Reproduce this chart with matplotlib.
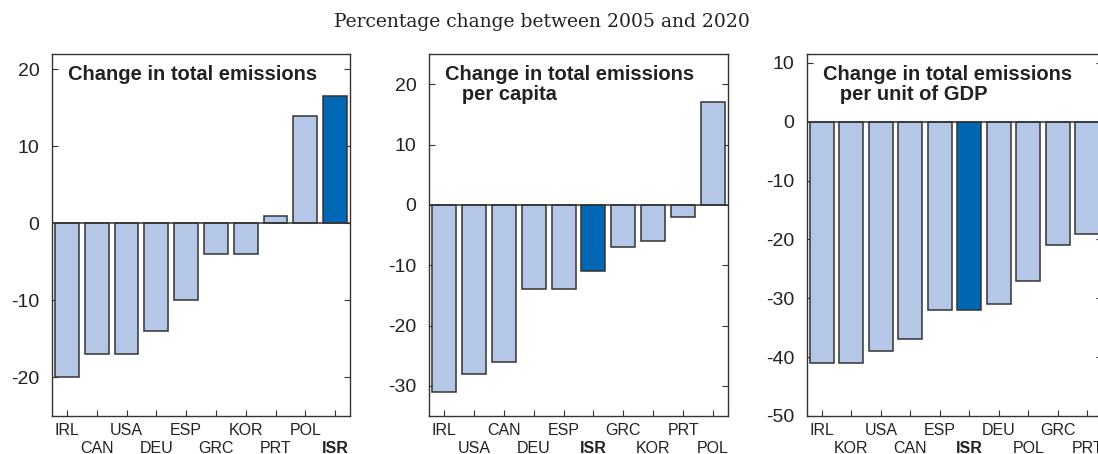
import matplotlib
matplotlib.use("Agg")
import matplotlib.pyplot as plt

plt.rcParams['font.family'] = ['Liberation Sans', 'DejaVu Sans']
plt.rcParams['axes.unicode_minus'] = False

# Panel 1: change in total emissions
total_countries = ['IRL', 'CAN', 'USA', 'DEU', 'ESP', 'GRC', 'KOR', 'PRT', 'POL', 'ISR']
total_values = [-20, -17, -17, -14, -10, -4, -4, 1, 14, 16.5]

# Panel 2: per capita
capita_countries = ['IRL', 'USA', 'CAN', 'DEU', 'ESP', 'ISR', 'GRC', 'KOR', 'PRT', 'POL']
capita_values = [-31, -28, -26, -14, -14, -11, -7, -6, -2, 17]

# Panel 3: per unit of GDP
gdp_countries = ['IRL', 'KOR', 'USA', 'CAN', 'ESP', 'ISR', 'DEU', 'POL', 'GRC', 'PRT']
gdp_values = [-41, -41, -39, -37, -32, -32, -31, -27, -21, -19]

light = '#b4c7e7'
dark = '#0067b4'
edge = '#333333'

W, H = 1098, 454
fig = plt.figure(figsize=(W / 100, H / 100), dpi=100)

fig.text(542 / W, 1 - 22 / H, 'Percentage change between 2005 and 2020',
         ha='center', va='center', fontsize=13.5, family='DejaVu Serif', color='#222222')

panels = [
    (52, 298, total_countries, total_values, (-25, 22), [-20, -10, 0, 10, 20],
     'Change in total emissions'),
    (429, 299, capita_countries, capita_values, (-35, 25), [-30, -20, -10, 0, 10, 20],
     'Change in total emissions\n   per capita'),
    (807, 295, gdp_countries, gdp_values, (-50, 11.5), [-50, -40, -30, -20, -10, 0, 10],
     'Change in total emissions\n   per unit of GDP'),
]

for left, width, countries, values, ylim, yticks, title in panels:
    ax = fig.add_axes([left / W, (H - 416) / H, width / W, 362 / H])
    colors = [dark if c == 'ISR' else light for c in countries]
    x = list(range(len(countries)))
    ax.bar(x, values, width=0.8, color=colors, edgecolor=edge, linewidth=1.1, zorder=2)
    ax.axhline(0, color=edge, linewidth=1.1, zorder=3)
    ax.set_xlim(-0.5, len(countries) - 0.5)
    ax.set_ylim(*ylim)
    ax.set_yticks(yticks)
    ax.set_yticklabels([str(v) for v in yticks])

    # staggered labels: even positions on the first row, odd ones on the second
    ax.set_xticks(x[0::2])
    ax.set_xticklabels(countries[0::2])
    ax.set_xticks(x[1::2], minor=True)
    ax.set_xticklabels(countries[1::2], minor=True)
    for lab in ax.get_xticklabels() + ax.get_xticklabels(minor=True):
        if lab.get_text() == 'ISR':
            lab.set_fontweight('bold')

    ax.tick_params(axis='y', direction='in', length=4, width=0.8, color=edge,
                   left=True, right=True, labelsize=14, pad=9, labelcolor='#222222')
    ax.tick_params(axis='x', which='major', direction='in', length=4, width=0.8, color=edge,
                   bottom=True, top=False, labelsize=11.5, pad=5, labelcolor='#222222')
    ax.tick_params(axis='x', which='minor', direction='in', length=4, width=0.8, color=edge,
                   bottom=True, top=False, labelsize=11.5, pad=18, labelcolor='#222222')
    for sp in ax.spines.values():
        sp.set_color(edge)
        sp.set_linewidth(1.0)
    ax.text(16 / width, 1 - 11 / 362, title, transform=ax.transAxes, ha='left', va='top',
            fontsize=14.5, fontweight='bold', color='#222222', linespacing=1.05, zorder=4)

fig.savefig('out.png', dpi=100)
